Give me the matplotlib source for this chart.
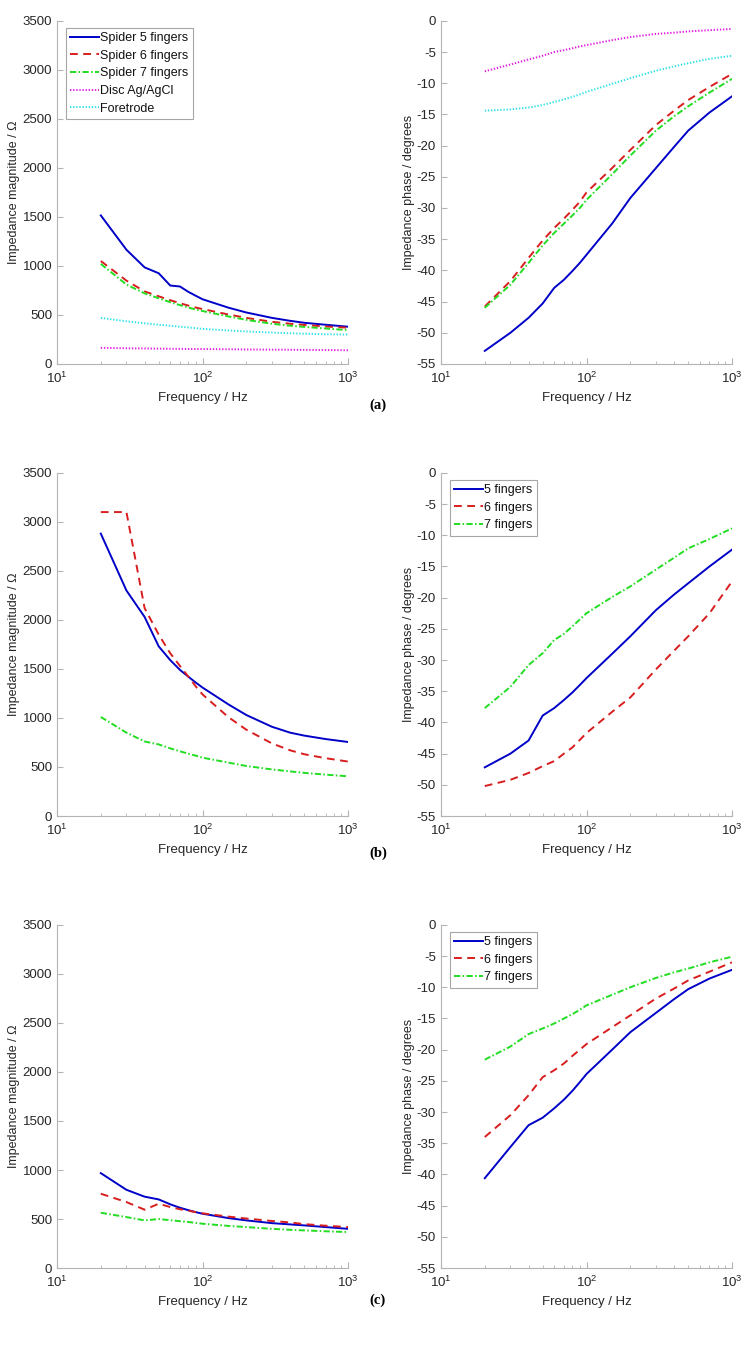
"""Impedance magnitude and phase of the spider electrodes, panels (a)-(c)"""

import matplotlib
matplotlib.use("Agg")
import matplotlib.pyplot as plt
from matplotlib.ticker import LogLocator, NullFormatter

plt.rcParams["font.family"] = ["Liberation Sans", "DejaVu Sans"]
plt.rcParams["font.size"] = 9
plt.rcParams["axes.unicode_minus"] = False
plt.rcParams["mathtext.fontset"] = "custom"
plt.rcParams["mathtext.rm"] = "Liberation Sans"
plt.rcParams["mathtext.it"] = "Liberation Sans"
plt.rcParams["mathtext.bf"] = "Liberation Sans"

freq = [20, 30, 40, 50, 60, 70, 80, 90, 100, 150, 200, 300, 400, 500, 700, 1000]

# (a) spider electrodes vs reference electrodes
a_mag_5 = [1515, 1165, 985, 925, 800, 790, 735, 695, 660, 575, 525, 470, 440, 420, 400, 380]
a_mag_6 = [1050, 850, 740, 690, 650, 620, 595, 575, 560, 505, 470, 430, 410, 398, 382, 370]
a_mag_7 = [1020, 810, 720, 670, 630, 600, 575, 555, 540, 485, 450, 410, 390, 378, 362, 345]
a_mag_disc = [165, 160, 158, 156, 155, 154, 153, 152, 152, 150, 148, 146, 145, 144, 142, 140]
a_mag_fore = [470, 435, 415, 400, 390, 380, 372, 365, 358, 342, 332, 320, 313, 309, 303, 300]

a_ph_5 = [-52.9, -50.0, -47.6, -45.3, -42.8, -41.5, -40.1, -38.8, -37.5, -32.5, -28.4, -23.6, -20.2, -17.6, -14.7, -12.1]
a_ph_6 = [-45.8, -41.7, -38.0, -35.2, -33.2, -31.7, -30.3, -29.0, -27.5, -23.6, -20.7, -16.7, -14.4, -12.7, -10.6, -8.5]
a_ph_7 = [-46.0, -42.3, -38.8, -36.0, -34.0, -32.5, -31.2, -30.0, -28.7, -24.6, -21.6, -17.6, -15.3, -13.7, -11.5, -9.3]
a_ph_disc = [-8.1, -7.0, -6.2, -5.6, -5.0, -4.7, -4.4, -4.1, -3.9, -3.1, -2.6, -2.1, -1.9, -1.7, -1.5, -1.3]
a_ph_fore = [-14.4, -14.2, -13.9, -13.5, -13.0, -12.6, -12.2, -11.8, -11.4, -10.1, -9.2, -8.0, -7.3, -6.8, -6.1, -5.6]

# (b)
b_mag_5 = [2880, 2300, 2030, 1730, 1590, 1490, 1420, 1360, 1310, 1140, 1030, 910, 850, 820, 785, 755]
b_mag_6 = [3100, 3100, 2120, 1850, 1660, 1530, 1420, 1320, 1240, 1010, 880, 740, 670, 630, 590, 555]
b_mag_7 = [1010, 850, 760, 730, 690, 660, 635, 615, 595, 545, 510, 475, 455, 440, 422, 405]

b_ph_5 = [-47.2, -45.0, -42.9, -38.9, -37.7, -36.4, -35.2, -34.0, -32.9, -29.0, -26.2, -22.0, -19.5, -17.7, -15.0, -12.3]
b_ph_6 = [-50.2, -49.2, -48.1, -47.0, -46.2, -45.0, -44.0, -42.8, -41.7, -38.3, -36.0, -31.5, -28.5, -26.2, -22.5, -17.4]
b_ph_7 = [-37.7, -34.3, -30.8, -28.9, -26.8, -25.8, -24.6, -23.5, -22.5, -19.9, -18.2, -15.5, -13.6, -12.1, -10.6, -8.9]

# (c)
c_mag_5 = [968, 798, 728, 700, 650, 615, 590, 570, 554, 510, 486, 458, 445, 435, 418, 400]
c_mag_6 = [758, 673, 595, 656, 622, 600, 585, 570, 558, 525, 505, 480, 465, 448, 432, 418]
c_mag_7 = [564, 520, 486, 500, 488, 478, 470, 460, 452, 430, 418, 400, 390, 384, 375, 367]

c_ph_5 = [-40.6, -35.6, -32.1, -30.9, -29.4, -28.0, -26.6, -25.2, -23.9, -20.0, -17.2, -14.1, -11.9, -10.3, -8.6, -7.2]
c_ph_6 = [-34.0, -30.5, -27.3, -24.4, -23.3, -22.2, -21.0, -20.0, -19.1, -16.4, -14.5, -11.8, -10.2, -8.9, -7.5, -6.0]
c_ph_7 = [-21.6, -19.5, -17.5, -16.6, -15.8, -15.0, -14.3, -13.6, -12.9, -11.2, -10.0, -8.5, -7.6, -7.0, -6.0, -5.1]

styles = {
    "5": dict(color="#0000c8", ls="-"),
    "6": dict(color="#d81e1e", dashes=(4, 2.8)),
    "7": dict(color="#22dd22", dashes=(3.2, 1.2, 0.8, 1.2)),
    "disc": dict(color="#e020e0", dashes=(0.7, 0.9)),
    "fore": dict(color="#30e0e8", dashes=(0.7, 0.9)),
}
lw = 1.4
spine_col = "#b4b4b4"
text_col = "#262626"

fig = plt.figure(figsize=(7.56, 13.51), dpi=100)

left_x, right_x, w, h = 0.0754, 0.5833, 0.385, 0.254
row_bottoms = [0.7306, 0.396, 0.0614]


def style_axes(ax, kind):
    ax.set_xscale("log")
    ax.set_xlim(10, 1000)
    for s in ["top", "right"]:
        ax.spines[s].set_visible(False)
    for s in ["left", "bottom"]:
        ax.spines[s].set_color(spine_col)
        ax.spines[s].set_linewidth(0.8)
    ax.xaxis.set_major_locator(LogLocator(base=10, numticks=5))
    ax.xaxis.set_minor_locator(LogLocator(base=10, subs=range(2, 10), numticks=10))
    ax.xaxis.set_minor_formatter(NullFormatter())
    ax.tick_params(which="both", direction="in", colors=spine_col,
                   labelcolor=text_col, labelsize=9.5)
    ax.tick_params(which="major", length=4)
    ax.tick_params(which="minor", length=2.5)
    ax.tick_params(axis="x", pad=5)
    ax.set_xlabel("Frequency / Hz", color=text_col, fontsize=9.5)
    if kind == "mag":
        ax.set_ylim(0, 3500)
        ax.set_yticks(range(0, 3501, 500))
        ax.set_ylabel("Impedance magnitude / Ω", color=text_col, fontsize=9,
                      labelpad=1.5)
    else:
        ax.set_ylim(-55, 0)
        ax.set_yticks(range(-55, 1, 5))
        ax.set_ylabel("Impedance phase / degrees", color=text_col, fontsize=9,
                      labelpad=1.5)


def add_legend(ax):
    leg = ax.legend(loc="upper left", bbox_to_anchor=(0.03, 0.98), frameon=True,
                    fancybox=False, handlelength=2.3, handletextpad=0.1,
                    borderpad=0.35, labelspacing=0.45, borderaxespad=0.0,
                    fontsize=9)
    leg.get_frame().set_edgecolor("#909090")
    leg.get_frame().set_linewidth(0.8)
    for t in leg.get_texts():
        t.set_color("#111111")


# row (a)
ax = fig.add_axes([left_x, row_bottoms[0], w, h])
style_axes(ax, "mag")
ax.plot(freq, a_mag_5, lw=lw, label="Spider 5 fingers", **styles["5"])
ax.plot(freq, a_mag_6, lw=lw, label="Spider 6 fingers", **styles["6"])
ax.plot(freq, a_mag_7, lw=lw, label="Spider 7 fingers", **styles["7"])
ax.plot(freq, a_mag_disc, lw=lw, label="Disc Ag/AgCl", **styles["disc"])
ax.plot(freq, a_mag_fore, lw=lw, label="Foretrode", **styles["fore"])
add_legend(ax)

ax = fig.add_axes([right_x, row_bottoms[0], w, h])
style_axes(ax, "phase")
ax.plot(freq, a_ph_5, lw=lw, **styles["5"])
ax.plot(freq, a_ph_6, lw=lw, **styles["6"])
ax.plot(freq, a_ph_7, lw=lw, **styles["7"])
ax.plot(freq, a_ph_disc, lw=lw, **styles["disc"])
ax.plot(freq, a_ph_fore, lw=lw, **styles["fore"])

# rows (b) and (c)
rows = [
    (b_mag_5, b_mag_6, b_mag_7, b_ph_5, b_ph_6, b_ph_7),
    (c_mag_5, c_mag_6, c_mag_7, c_ph_5, c_ph_6, c_ph_7),
]
for bottom, (m5, m6, m7, p5, p6, p7) in zip(row_bottoms[1:], rows):
    ax = fig.add_axes([left_x, bottom, w, h])
    style_axes(ax, "mag")
    ax.plot(freq, m5, lw=lw, **styles["5"])
    ax.plot(freq, m6, lw=lw, **styles["6"])
    ax.plot(freq, m7, lw=lw, **styles["7"])

    ax = fig.add_axes([right_x, bottom, w, h])
    style_axes(ax, "phase")
    ax.plot(freq, p5, lw=lw, label="5 fingers", **styles["5"])
    ax.plot(freq, p6, lw=lw, label="6 fingers", **styles["6"])
    ax.plot(freq, p7, lw=lw, label="7 fingers", **styles["7"])
    add_legend(ax)

captions = [("(a)", 405), ("(b)", 853), ("(c)", 1300)]
for text, ypix in captions:
    fig.text(378 / 756, 1 - ypix / 1351, text, ha="center", va="center",
             fontsize=10.5, fontweight="bold", family=["Liberation Serif", "DejaVu Serif"])

fig.savefig("out.png", dpi=100)
